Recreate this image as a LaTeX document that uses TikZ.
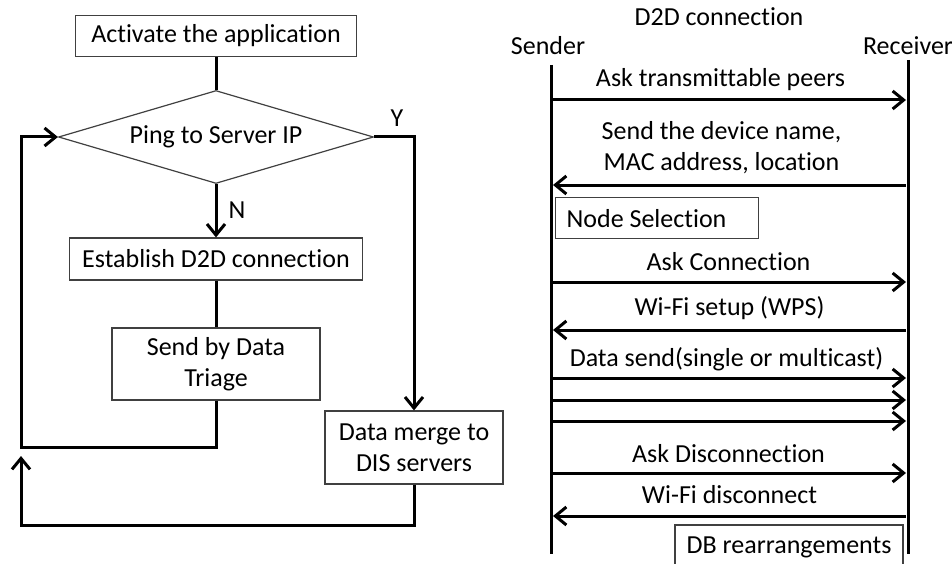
\documentclass[tikz,border=0pt]{standalone}
\usepackage{fontspec}
\setmainfont[Ligatures=NoCommon]{Carlito}
\usetikzlibrary{shapes.geometric,arrows.meta}

\begin{document}
\begin{tikzpicture}[x=1pt,y=-1pt,
  every node/.style={font=\fontsize{26}{31}\selectfont},
  box/.style={draw=black!75, line width=1.2pt, fill=white, inner sep=0pt, align=center},
  decision/.style={diamond, draw=black!75, line width=1.2pt, inner sep=0pt,
    minimum width=315pt, minimum height=93pt, aspect=3.39},
  conn/.style={line width=3pt, black, line join=miter},
  tip/.style={-{Straight Barb[length=11pt,width=18pt]}},
  lab/.style={inner sep=0pt, align=center},
]
\useasboundingbox (0,0) rectangle (952,564);

% ---------------- flowchart ----------------
\node[box, minimum width=281, minimum height=41] (act) at (216,36) {Activate the application};
\node[decision] (ping) at (216,137) {Ping to Server IP};
\node[box, minimum width=293, minimum height=42] (est) at (216,259) {Establish D2D connection};
\node[box, minimum width=208, minimum height=72] (tri) at (216,364) {Send by Data\\Triage};
\node[box, minimum width=178, minimum height=73] (merge) at (414,447.5) {Data merge to\\DIS servers};

\coordinate (loopL) at (21,447);
\coordinate (botL) at (21,525);
\coordinate (upEnd) at (21,456);

\draw[conn] (act.south) -- (ping.north);
\draw[conn,tip] (ping.south) -- (est.north);
\node[lab] (nlab) at (237,210) {N};
\draw[conn,tip] (ping.east) -| (merge.north);
\node[lab] (ylab) at (397,118) {Y};
\draw[conn] (est.south) -- (tri.north);
\draw[conn,tip] (tri.south) |- (loopL) |- (ping.west);
\draw[conn,tip] (merge.south) |- (botL) -- (upEnd);

% ---------------- D2D sequence ----------------
\node[lab] (title) at (719,17) {D2D connection};
\node[lab] (sender) at (548,46) {Sender};
\node[lab] (recv) at (908,46) {Receiver};

\coordinate (sTop) at (551,65);
\coordinate (sBot) at (551,554);
\coordinate (rTop) at (908,60);
\coordinate (rBot) at (908,554);
\draw[conn] (sTop) -- (sBot);
\draw[conn] (rTop) -- (rBot);

\foreach \n/\y in {1/100,2/185,3/282,4/330,5/378,6/400,7/421,8/473,9/516}{
  \coordinate (s\n) at (551,\y);
  \coordinate (r\n) at (906,\y);
}
\coordinate (l2) at (553,185);
\coordinate (l4) at (553,330);
\coordinate (l9) at (553,516);

\draw[conn,tip] (s1) -- node[lab,yshift=20,xshift=-8] {Ask transmittable peers} (r1);
\draw[conn,tip] (r2) -- node[lab,yshift=37,xshift=-8] {Send the device name,\\MAC address, location} (l2);
\draw[conn,tip] (s3) -- node[lab,yshift=20] {Ask Connection} (r3);
\draw[conn,tip] (r4) -- node[lab,yshift=22] {Wi-Fi setup (WPS)} (l4);
\draw[conn,tip] (s5) -- node[lab,yshift=19,xshift=-2] {Data send(single or multicast)} (r5);
\draw[conn,tip] (s6) -- (r6);
\draw[conn,tip] (s7) -- (r7);
\draw[conn,tip] (s8) -- node[lab,yshift=19] {Ask Disconnection} (r8);
\draw[conn,tip] (r9) -- node[lab,yshift=21] {Wi-Fi disconnect} (l9);

\node[box, anchor=north west, minimum height=41, text width=181, inner xsep=11, align=flush left]
  (nodesel) at (555,197) {Node Selection};
\node[box, minimum width=228, minimum height=44] (dbre) at (789,547) {DB rearrangements};
\end{tikzpicture}
\end{document}
